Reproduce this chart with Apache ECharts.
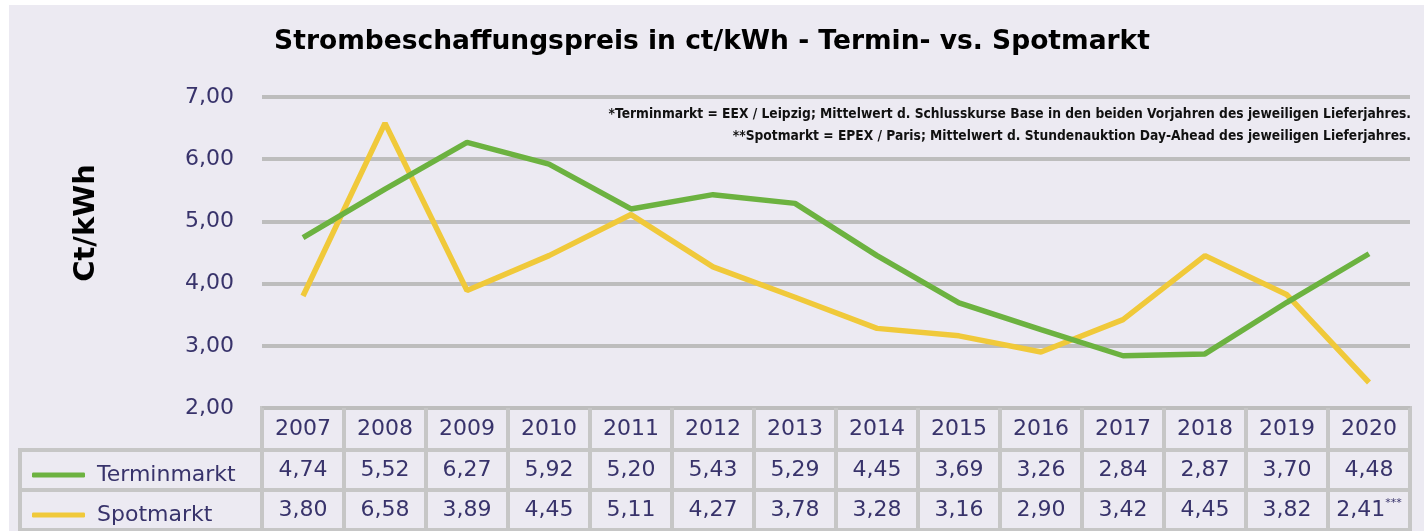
<!DOCTYPE html>
<html>
<head>
<meta charset="utf-8">
<script src="https://cdn.jsdelivr.net/npm/echarts@6/dist/echarts.min.js"></script>
<style>
  html, body { margin: 0; padding: 0; background: #ffffff; }
  #panel { position: absolute; left: 9px; top: 5px; width: 1415px; height: 526px; background: #ECEAF2; }
  #chart { position: absolute; left: 0; top: 0; width: 1424px; height: 531px; }
</style>
</head>
<body>
<div id="panel"></div>
<div id="chart"></div>
<script>
// ---- data ----
const years = ['2007','2008','2009','2010','2011','2012','2013','2014','2015','2016','2017','2018','2019','2020'];
const termin = [4.74, 5.52, 6.27, 5.92, 5.20, 5.43, 5.29, 4.45, 3.69, 3.26, 2.84, 2.87, 3.70, 4.48];
const spot   = [3.80, 6.58, 3.89, 4.45, 5.11, 4.27, 3.78, 3.28, 3.16, 2.90, 3.42, 4.45, 3.82, 2.41];
const spotNotes = ['', '', '', '', '', '', '', '', '', '', '', '', '', '***'];
const seriesNames = ['Terminmarkt', 'Spotmarkt'];
const yMin = 2, yMax = 7, yStep = 1;
const titleText = 'Strombeschaffungspreis in ct/kWh - Termin- vs. Spotmarkt';
const yName = 'Ct/kWh';
const footnotes = [
  '*Terminmarkt = EEX / Leipzig; Mittelwert d. Schlusskurse Base in den beiden Vorjahren des jeweiligen Lieferjahres.',
  '**Spotmarkt = EPEX / Paris; Mittelwert d. Stundenauktion Day-Ahead des jeweiligen Lieferjahres.'
];

// ---- styles ----
const PURPLE = '#38336B';
const GREEN = '#6CB240';
const YELLOW = '#F0C93A';
const CELL = '#C6C6C6';
const FONT = 'DejaVu Sans';
const fmt = v => v.toFixed(2).replace('.', ',');

const chart = echarts.init(document.getElementById('chart'), null, { renderer: 'canvas' });

const hiddenCat = (gi, data, extra) => Object.assign({
  type: 'category', gridIndex: gi, data: data, boundaryGap: true,
  axisLine: { show: false }, axisTick: { show: false }, axisLabel: { show: false },
  splitLine: { show: true, interval: 0, lineStyle: { color: CELL, width: 4 } }
}, extra || {});

chart.setOption({
  animation: false,
  backgroundColor: 'transparent',
  textStyle: { fontFamily: FONT },
  title: {
    text: titleText, left: 'center', top: 24,
    textStyle: { fontFamily: FONT, fontSize: 26.5, fontWeight: 'bold', color: '#000' }
  },
  legend: {
    data: seriesNames, orient: 'vertical', left: 27, top: 459,
    itemWidth: 53, itemHeight: 5, itemGap: 18, icon: 'roundRect',
    textStyle: { fontFamily: FONT, fontSize: 22, color: PURPLE, padding: [0, 0, 0, 7] }
  },
  grid: [
    { left: 262, top: 97, width: 1148, height: 311 },
    { left: 262, top: 408, width: 1148, height: 42, show: true, borderColor: CELL, borderWidth: 4 },
    { left: 262, top: 450, width: 1148, height: 80, show: true, borderColor: CELL, borderWidth: 4 },
    { left: 20, top: 450, width: 242, height: 80, show: true, borderColor: CELL, borderWidth: 4 }
  ],
  xAxis: [
    { type: 'category', gridIndex: 0, data: years, boundaryGap: true, show: false },
    hiddenCat(1, years, {
      axisLabel: { show: true, inside: true, margin: 21, verticalAlign: 'middle',
                   fontFamily: FONT, fontSize: 22, color: PURPLE }
    }),
    hiddenCat(2, years),
    { type: 'value', gridIndex: 3, show: false }
  ],
  yAxis: [
    {
      type: 'value', gridIndex: 0, min: yMin, max: yMax, interval: yStep,
      axisLine: { show: false }, axisTick: { show: false },
      axisLabel: { formatter: v => fmt(v), fontFamily: FONT, fontSize: 22, color: PURPLE, margin: 28 },
      splitLine: { show: true, lineStyle: { color: '#BDBDBD', width: 4 } }
    },
    { type: 'value', gridIndex: 1, show: false },
    hiddenCat(2, seriesNames.slice().reverse()),
    hiddenCat(3, seriesNames.slice().reverse())
  ],
  graphic: [
    { type: 'text', x: 86, y: 223, rotation: Math.PI / 2,
      style: { text: yName, font: 'bold 29px "DejaVu Sans"', fill: '#000', align: 'center', verticalAlign: 'middle' } },
    { type: 'text', right: 13, top: 107,
      style: { text: footnotes[0], font: 'bold 13.7px "DejaVu Sans Condensed"', fill: '#111' } },
    { type: 'text', right: 13, top: 129,
      style: { text: footnotes[1], font: 'bold 13.7px "DejaVu Sans Condensed"', fill: '#111' } }
  ],
  series: [
    { name: seriesNames[1], type: 'line', xAxisIndex: 0, yAxisIndex: 0, data: spot,
      symbol: 'none', color: YELLOW, lineStyle: { width: 5.5, color: YELLOW }, z: 3 },
    { name: seriesNames[0], type: 'line', xAxisIndex: 0, yAxisIndex: 0, data: termin,
      symbol: 'none', color: GREEN, lineStyle: { width: 5.5, color: GREEN }, z: 4 },
    { name: 'tabT', type: 'scatter', xAxisIndex: 2, yAxisIndex: 2, symbolSize: 1,
      itemStyle: { color: 'transparent', opacity: 1 }, silent: true,
      data: termin.map((v, i) => [i, seriesNames[0], v]),
      label: { show: true, position: 'inside', formatter: p => fmt(p.value[2]),
               fontFamily: FONT, fontSize: 22, color: PURPLE, opacity: 1 } },
    { name: 'tabS', type: 'scatter', xAxisIndex: 2, yAxisIndex: 2, symbolSize: 1,
      itemStyle: { color: 'transparent', opacity: 1 }, silent: true,
      data: spot.map((v, i) => [i, seriesNames[1], v]),
      label: { show: true, position: 'inside', opacity: 1,
               formatter: p => '{v|' + fmt(p.value[2]) + '}' + (spotNotes[p.dataIndex] ? '{s|' + spotNotes[p.dataIndex] + '}' : ''),
               rich: {
                 v: { fontFamily: FONT, fontSize: 22, color: PURPLE },
                 s: { fontFamily: FONT, fontSize: 11, color: PURPLE, verticalAlign: 'top', padding: [0, 0, 14, 0] }
               } } }
  ]
});
</script>
</body>
</html>
